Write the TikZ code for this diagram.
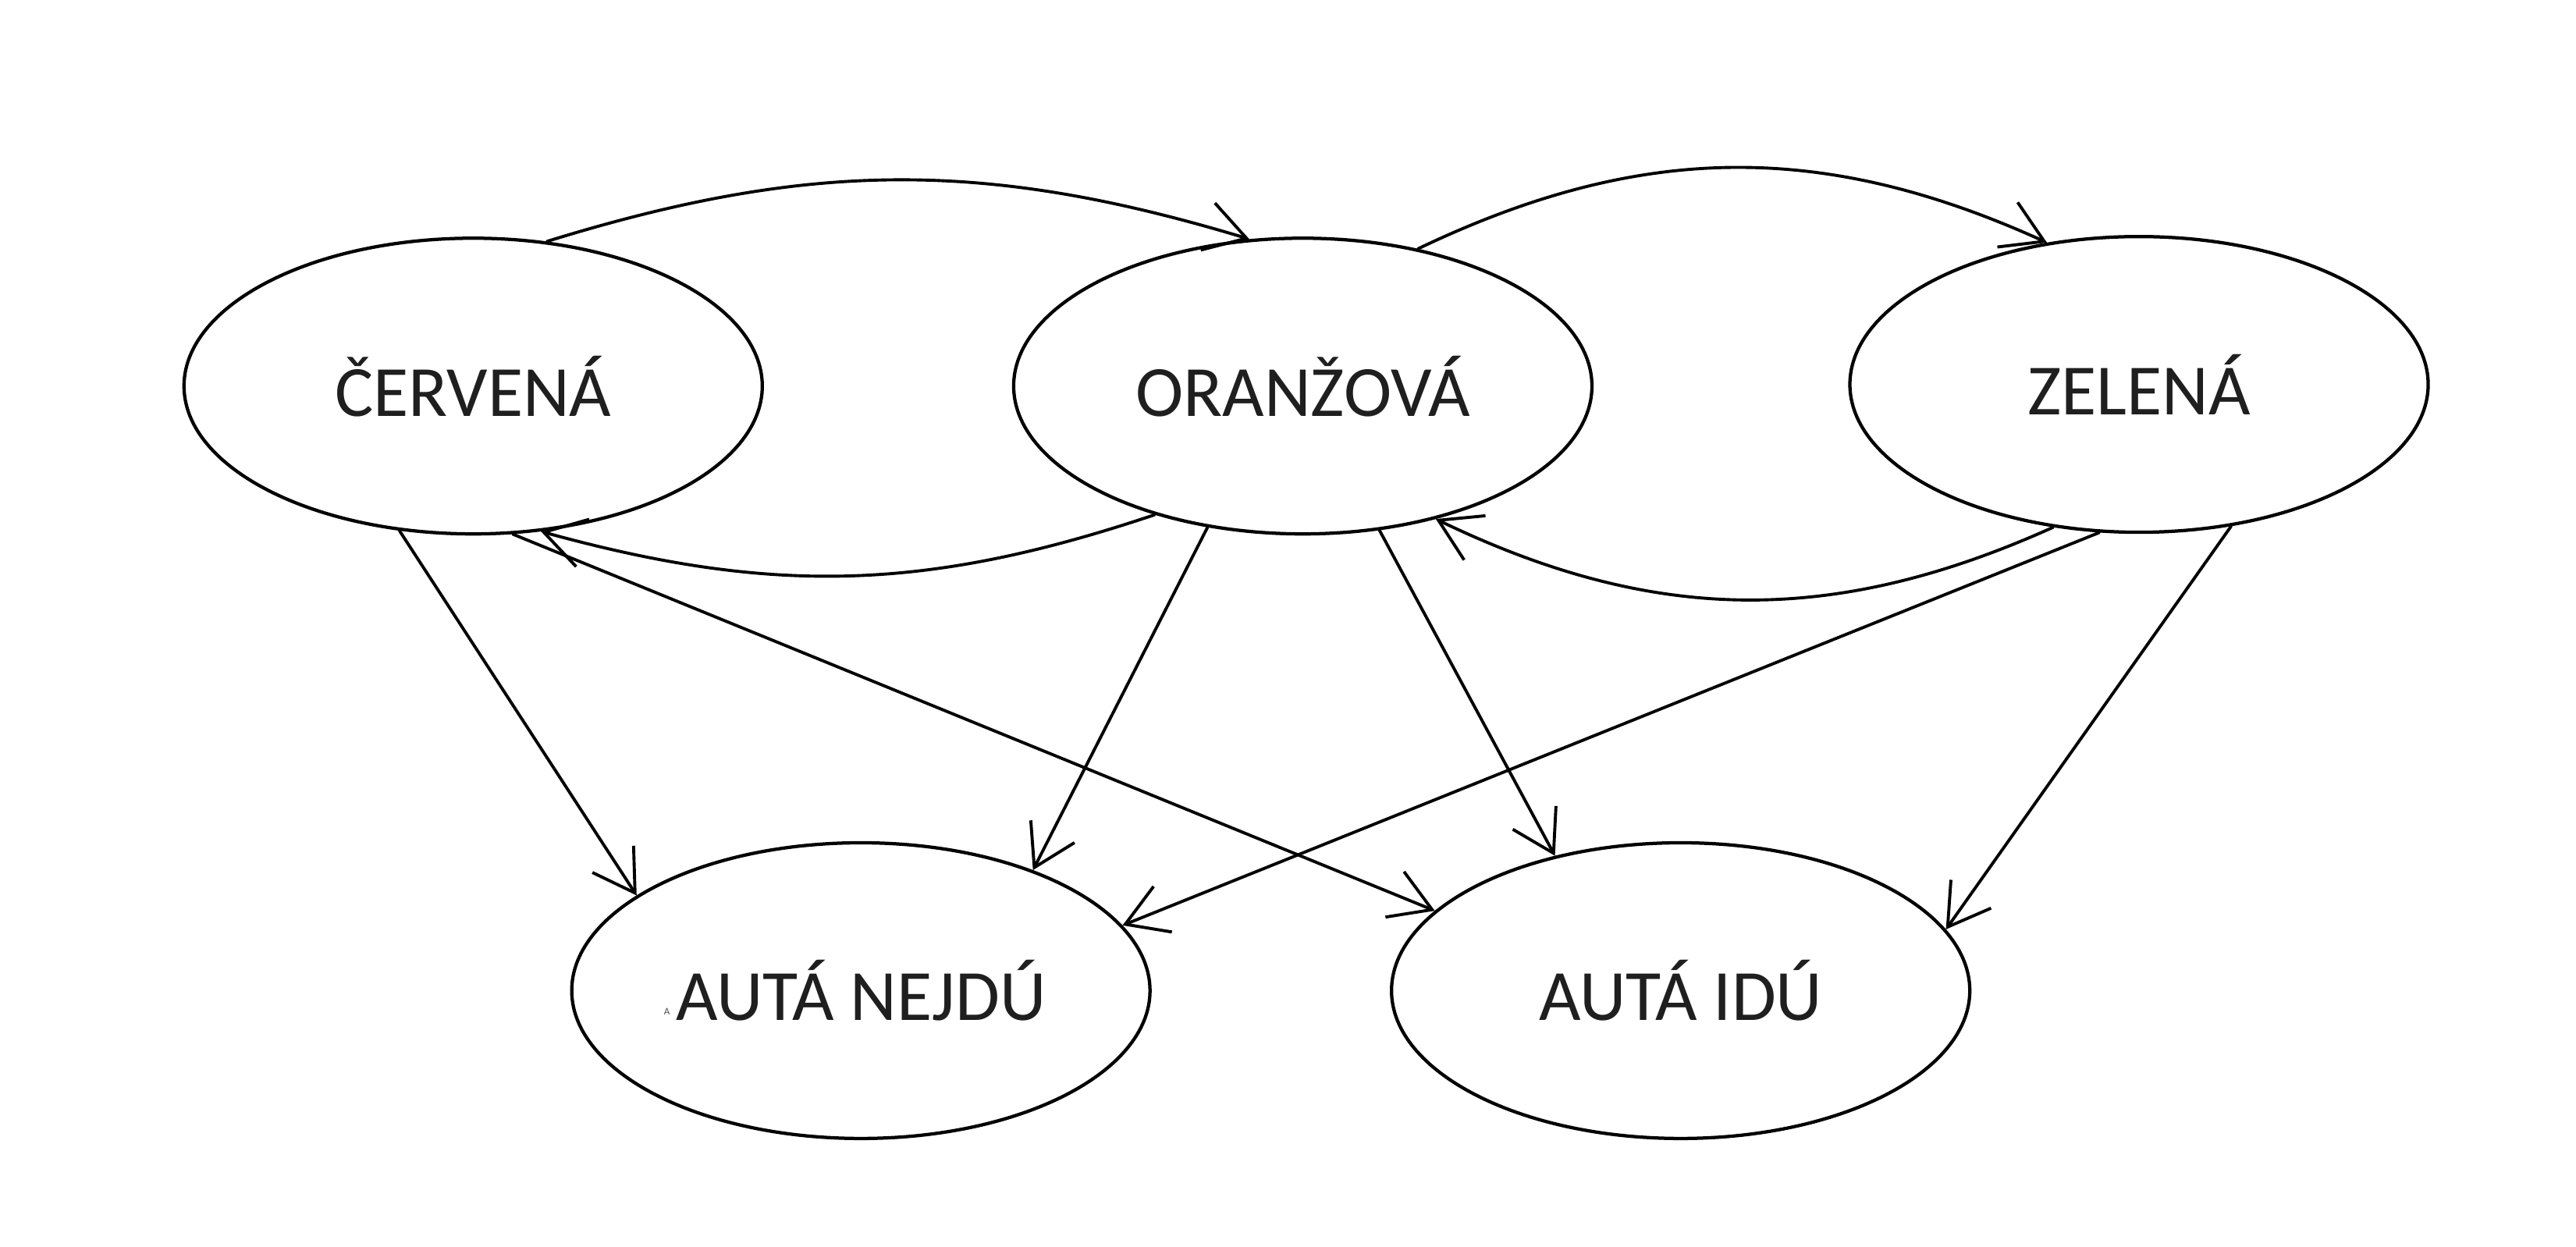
\documentclass[tikz,border=0pt]{standalone}
\usepackage{fontspec}
\setmainfont{Carlito}
\usetikzlibrary{shapes.geometric,arrows.meta}
\begin{document}
\begin{tikzpicture}[line cap=round,line join=round,font=\fontsize{25}{30}\selectfont,>={Straight Barb[length=14pt,width=17pt]},scale=1,
	stav/.style={draw,ellipse,line width=1.15pt,minimum width=7.04cm,minimum height=3.6cm,inner sep=0pt,text=black!88},
	prechod/.style={->,line width=1.05pt}]
	\useasboundingbox (0,0) rectangle (31.36,15.18);
	\node[stav] (cer) at (5.76,10.48) {ČERVENÁ};
	\node[stav] (ora) at (15.86,10.48) {ORANŽOVÁ};
	\node[stav] (zel) at (26.04,10.50) {ZELENÁ};
	\node[stav] (nej) at (10.48,3.12) {AUTÁ NEJDÚ};
	\node[stav] (idu) at (20.46,3.12) {AUTÁ IDÚ};
	\node[inner sep=0pt,text=black!70,font=\fontsize{3.5}{4}\selectfont] (pismA) at (8.12,2.86) {A};
	% prechody medzi farbami
	\draw[prechod] (cer.63) to[bend left=17] (ora.110);
	\draw[prechod] (ora.50) to[bend left=25] (zel.123);
	\draw[prechod] (ora.221) to[bend left=17] (cer.295);
	\draw[prechod] (zel.239) to[bend left=25] (ora.315);
	% do stavov aut
	\draw[prechod] (cer.243) -- (nej.157);
	\draw[prechod] (cer.285) -- (idu.162);
	\draw[prechod] (ora.236) -- (nej.35);
	\draw[prechod] (ora.298) -- (idu.133);
	\draw[prechod] (zel.255) -- (nej.14);
	\draw[prechod] (zel.303) -- (idu.13);
\end{tikzpicture}
\end{document}
